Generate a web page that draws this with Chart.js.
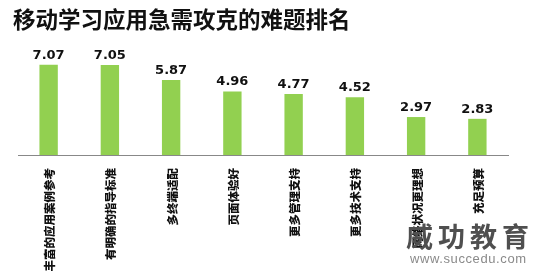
<!DOCTYPE html>
<html>
<head>
<meta charset="utf-8">
<script src="https://cdn.jsdelivr.net/npm/chart.js@4.4.1/dist/chart.umd.min.js"></script>
<style>
html,body{margin:0;padding:0;background:#fff;}
#wrap{position:relative;width:539px;height:275px;}
#wm1{position:absolute;left:406px;top:216px;font:bold 27px "Noto Sans CJK SC";color:#4f4f4f;letter-spacing:5px;}
#wm2{position:absolute;left:410px;top:251px;font:13px "Liberation Sans";color:#8a8a8a;letter-spacing:.6px;}
</style>
</head>
<body>
<div id="wrap">
<canvas id="c" width="539" height="275"></canvas>
<div id="wm1">威功教育</div>
<div id="wm2">www.succedu.com</div>
</div>
<script>
// 难题排名 — 数据
const titleText="移动学习应用急需攻克的难题排名";
const categories=["丰富的应用案例参考","有明确的指导标准","多终端适配","页面体验好","更多管理支持","更多技术支持","网络状况更理想","充足预算"];
const scores=[7.07,7.05,5.87,4.96,4.77,4.52,2.97,2.83];

const valueLabels={
  id:"valueLabels",
  afterDatasetsDraw(ch){
    const c=ch.ctx,meta=ch.getDatasetMeta(0);
    c.save();
    c.font="bold 13px 'DejaVu Sans'";c.fillStyle="#111";c.textAlign="center";c.textBaseline="bottom";
    meta.data.forEach((b,i)=>c.fillText(scores[i].toFixed(2),b.x,b.y-3));
    c.restore();
  }
};

new Chart(document.getElementById("c"),{
  type:"bar",
  data:{labels:categories,datasets:[{data:scores,backgroundColor:"#92D050",barPercentage:0.3,categoryPercentage:1}]},
  options:{
    responsive:false,animation:false,
    layout:{padding:{left:13,right:31,top:0,bottom:0}},
    plugins:{
      legend:{display:false},tooltip:{enabled:false},
      title:{display:true,text:titleText,align:"start",color:"#111",font:{family:"Noto Sans CJK SC",size:22.5,weight:"bold"},padding:{top:6,bottom:14}}
    },
    scales:{
      y:{min:0,max:8.45,grid:{display:false},border:{display:false},ticks:{display:false},afterFit(s){s.width=5;}},
      x:{grid:{display:false},border:{color:"#888",width:1},
        afterFit(s){s.height=120;},
        ticks:{minRotation:90,maxRotation:90,padding:5,labelOffset:1,color:"#111",font:{family:"Noto Sans CJK SC",size:11.5,weight:"900"}}}
    }
  },
  plugins:[valueLabels]
});
</script>
</body>
</html>
